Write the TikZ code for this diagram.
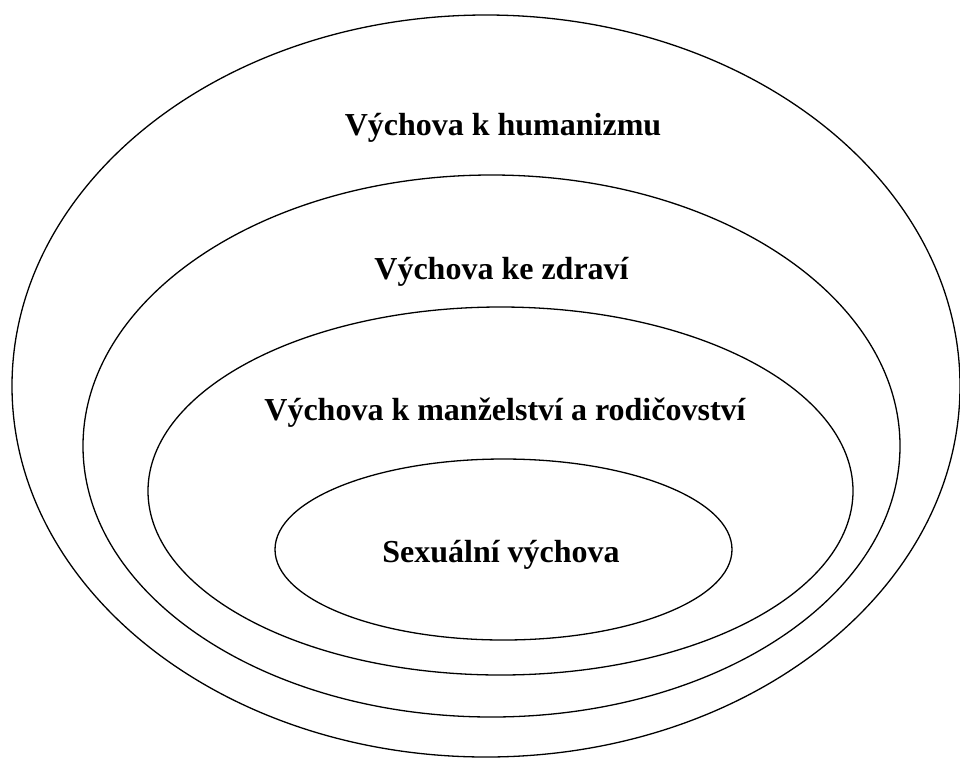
\documentclass[tikz,border=0pt]{standalone}
\usepackage{fontspec}
\setmainfont{Liberation Serif}
\begin{document}
\begin{tikzpicture}[x=1pt,y=-1pt,
  ring/.style={draw=black,line width=1.3pt},
  lbl/.style={anchor=base,inner sep=0pt,font=\fontsize{32}{38}\selectfont\bfseries}]
\useasboundingbox (0,0) rectangle (960,758);
\draw[ring] (486,386) ellipse [x radius=474,y radius=371];
\draw[ring] (491.5,446) ellipse [x radius=408.5,y radius=271];
\draw[ring] (500.5,491) ellipse [x radius=352.5,y radius=184];
\draw[ring] (503.5,549.5) ellipse [x radius=228.5,y radius=90.5];
\node[lbl] (t1) at (503,135) {Výchova k humanizmu};
\node[lbl] (t2) at (501.5,279) {Výchova ke zdraví};
\node[lbl] (t3) at (505,420.5) {Výchova k manželství a rodičovství};
\node[lbl] (t4) at (501,562) {Sexuální výchova};
\end{tikzpicture}
\end{document}
